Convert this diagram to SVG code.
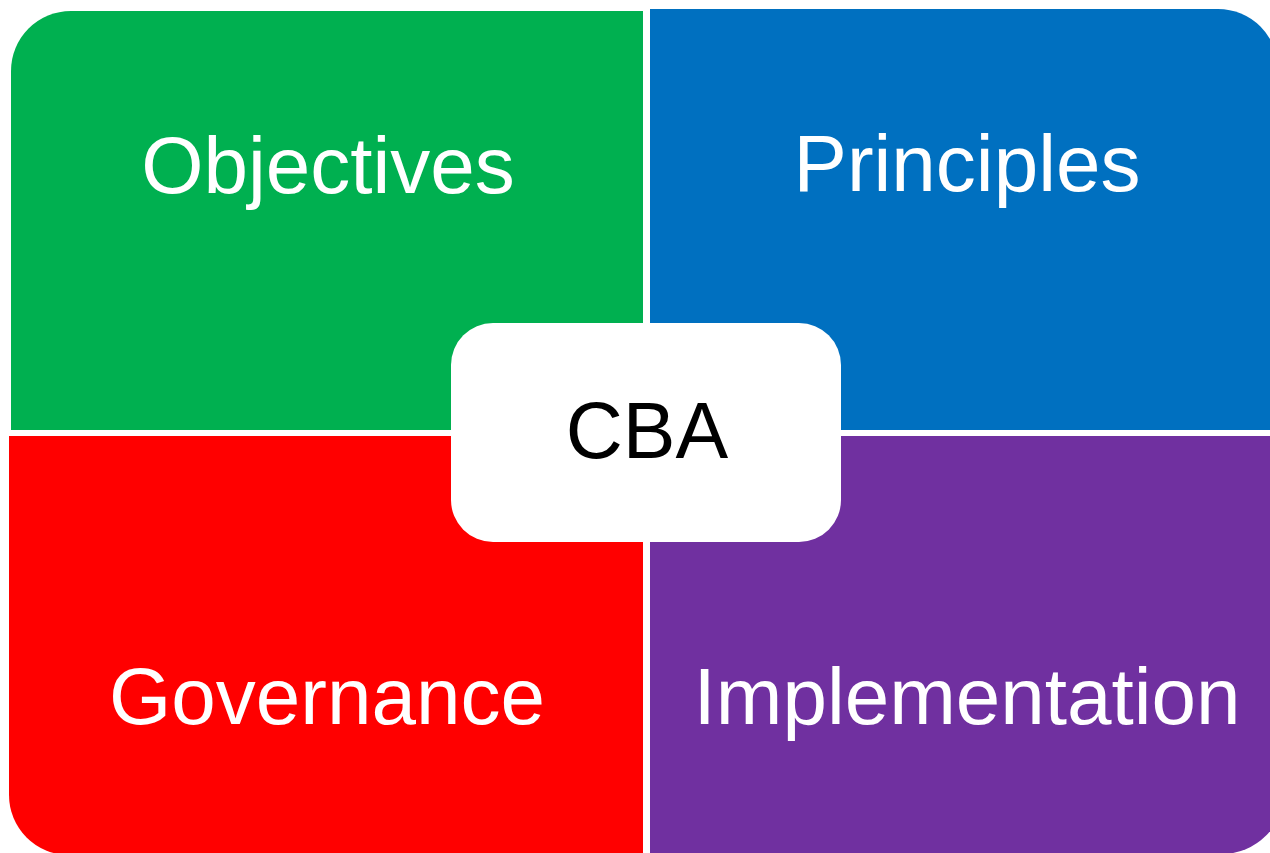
<svg xmlns="http://www.w3.org/2000/svg" width="1270" height="853" viewBox="0 0 1270 853">
<style>
.lbl{font-family:"Liberation Sans",Arial,sans-serif;font-size:80px;fill:#fff;text-anchor:middle}
.ctr{font-family:"Liberation Sans",Arial,sans-serif;font-size:79px;fill:#000;text-anchor:middle}
</style>
<rect width="1270" height="853" fill="#fff"/>
<g id="objectives">
<path d="M11,430 V71 A60,60 0 0 1 71,11 H643 V430 Z" fill="#00B050"/>
<text class="lbl" x="328" y="193">Objectives</text>
</g>
<g id="principles">
<path d="M650,9 H1218 A60,60 0 0 1 1278,69 V430 H650 Z" fill="#0070C0"/>
<text class="lbl" x="967" y="191">Principles</text>
</g>
<g id="governance">
<path d="M9,436 H643 V855 H69 A60,60 0 0 1 9,795 Z" fill="#FF0000"/>
<text class="lbl" x="327" y="724">Governance</text>
</g>
<g id="implementation">
<path d="M650,436 H1284 V792 A62,62 0 0 1 1222,854 H650 Z" fill="#7030A0"/>
<text class="lbl" x="967" y="724">Implementation</text>
</g>
<g id="cba">
<rect x="451" y="323" width="390" height="219" rx="42" ry="42" fill="#fff"/>
<text class="ctr" x="647" y="458">CBA</text>
</g>
<g id="connectors"></g>
</svg>
